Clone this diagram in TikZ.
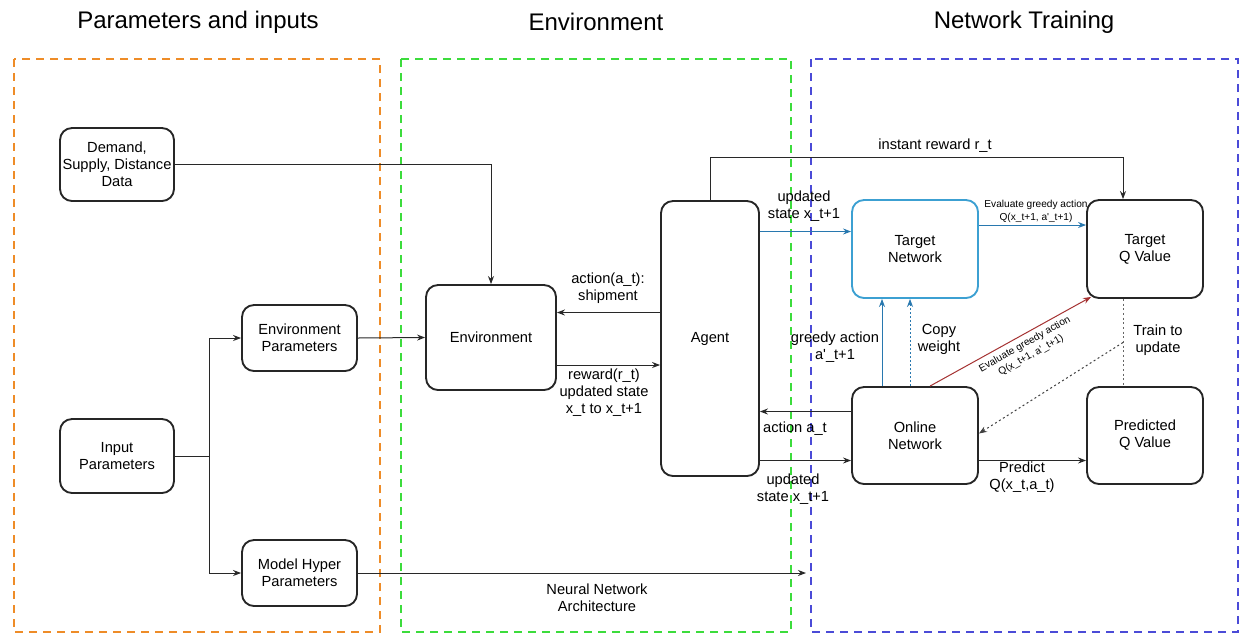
\documentclass[tikz,border=0pt]{standalone}
\usepackage{fontspec}
\setmainfont{Liberation Sans}
\usetikzlibrary{arrows.meta,calc}
\definecolor{orangeD}{RGB}{238,140,40}
\definecolor{greenD}{RGB}{60,220,60}
\definecolor{blueD}{RGB}{75,75,215}
\definecolor{tnblue}{RGB}{60,160,210}
\definecolor{arblue}{RGB}{40,120,175}
\definecolor{redA}{RGB}{165,50,50}
\definecolor{lineC}{RGB}{40,40,40}
\newcommand\lblfont{\fontsize{11}{12.75}\selectfont}
\newcommand\smallfont{\fontsize{7.6}{9.6}\selectfont}
\newcommand\titlefont{\fontsize{18}{22}\selectfont}
\newcommand\aq{\textquotesingle}
\begin{document}
\begin{tikzpicture}[x=0.75pt,y=-0.75pt,
  box/.style={draw=black!85,line width=1.4pt,rounded corners=9pt,align=center,inner sep=0pt,font=\lblfont,fill=white},
  group/.style={line width=1.5pt,dash pattern=on 6pt off 4.5pt},
  lab/.style={font=\lblfont,align=center,inner sep=0pt},
  slab/.style={font=\smallfont,align=center,inner sep=0pt},
  ttl/.style={font=\titlefont,inner sep=0pt},
  ln/.style={draw=lineC,line width=0.75pt},
  arr/.style={ln,-{Stealth[length=6pt,width=4.5pt]}},
  barr/.style={draw=arblue,line width=0.75pt,-{Stealth[length=6pt,width=4.5pt]}},
  bdarr/.style={barr,dash pattern=on 1.5pt off 1.5pt},
  rarr/.style={draw=redA,line width=0.75pt,-{Stealth[length=6pt,width=4.5pt]}},
  gdot/.style={draw=black!60,line width=0.75pt,dash pattern=on 1.5pt off 2pt},
  gdarr/.style={draw=black!75,line width=0.75pt,dash pattern=on 1.5pt off 2pt,-{Stealth[length=6pt,width=4.5pt]}}
]
\useasboundingbox (0,0) rectangle (1239,633);
\fill[white] (0,0) rectangle (1239,633);

% titles
\node[ttl] (t1) at (198,22) {Parameters and inputs};
\node[ttl] (t2) at (596,22) {Environment};
\node[ttl] (t3) at (1024,22) {Network Training};

% groups
\draw[group,orangeD] (14,59) rectangle (380,632);
\draw[group,greenD] (401,59) rectangle (791,632);
\draw[group,blueD] (811,59) rectangle (1238,632);

% nodes
\node[box,minimum width=85.5pt,minimum height=54.75pt] (demand) at (117,164.5) {Demand,\\Supply, Distance\\Data};
\node[box,minimum width=86.25pt,minimum height=49.5pt] (envp) at (299.5,338) {Environment\\Parameters};
\node[box,minimum width=85.5pt,minimum height=55.5pt] (inp) at (117,456) {Input\\Parameters};
\node[box,minimum width=86.25pt,minimum height=49.5pt] (mhp) at (299.5,573) {Model Hyper\\Parameters};
\node[box,minimum width=97.5pt,minimum height=78.75pt] (env) at (491,337.5) {Environment};
\node[box,minimum width=73.5pt,minimum height=206.25pt] (agent) at (710,338.5) {Agent};
\node[box,draw=tnblue,minimum width=94.5pt,minimum height=73.5pt] (tn) at (915,249) {Target\\Network};
\node[box,minimum width=87pt,minimum height=73.5pt] (tq) at (1145,249) {Target\\Q Value};
\node[box,minimum width=94.5pt,minimum height=72.75pt] (on) at (915,435.5) {Online\\Network};
\node[box,minimum width=87pt,minimum height=72.75pt] (pq) at (1145,435.5) {Predicted\\Q Value};

% left connectors
\draw[arr] (demand.east) -| (env.north);
\coordinate (split) at (209,456);
\draw[ln] (inp.east) -- (split);
\draw[arr] (split) |- (envp.west);
\draw[arr] (split) |- (mhp.west);
\draw[arr] (envp.east) -- (env.west);
\coordinate (nnEnd) at (806,573);
\draw[arr] (mhp.east) -- (nnEnd);
\node[lab] (nnlab) at (597,598) {Neural Network\\Architecture};

% environment <-> agent
\draw[arr] ($(agent.west)+(0,-26)$) coordinate (a1) -- (a1 -| env.east);
\node[lab] (l1) at (608,288) {action(a\_t):\\shipment};
\draw[arr] ($(env.east)+(0,27.5)$) coordinate (a2) -- (a2 -| agent.west);
\node[lab] (l2) at (604,393) {reward(r\_t)\\updated state\\x\_t to x\_t+1};

% instant reward
\draw[arr] (agent.north) -- ++(0,-43) -| ($(tq.north)+(-22,0)$);
\node[lab] (l3) at (935,146) {instant reward r\_t};

% agent -> target network
\draw[barr] ($(agent.east)+(0,-107)$) coordinate (a3) -- (a3 -| tn.west);
\node[lab] (l4) at (804,206) {updated\\state x\_t+1};

% target network -> target Q
\draw[barr] ($(tn.east)+(0,-24)$) coordinate (a4) -- (a4 -| tq.west);
\node[slab] (l5) at (1036,211) {Evaluate greedy action\\Q(x\_t+1, a\aq\_t+1)};

% online -> target network
\draw[barr] ($(on.north)+(-33,0)$) coordinate (a5) -- (a5 |- tn.south);
\node[lab] (l6) at (835,347) {greedy action\\a\aq\_t+1};
\draw[bdarr] ($(on.north)+(-5,0)$) coordinate (a6) -- (a6 |- tn.south);
\node[lab] (l7) at (939,339) {Copy\\weight};

% online -> target Q (red)
\draw[rarr] ($(on.north)+(15,0)$) -- ($(tq.south west)+(5,-2)$);
\node[slab,rotate=29.5] (l8) at (1028,350) {Evaluate greedy action\\Q(x\_t+1, a\aq\_t+1)};

% train to update
\draw[gdot] ($(tq.south)+(-22,0)$) coordinate (a7) -- (a7 |- pq.north);
\coordinate (a7m) at ($(a7)!0.5!(a7 |- pq.north)$);
\draw[gdarr] (a7m) -- ($(on.east)+(0,-2)$);
\node[lab] (l9) at (1158,340) {Train to\\update};

% online <-> agent
\draw[arr] ($(on.west)+(0,-24)$) coordinate (a8) -- (a8 -| agent.east);
\node[lab] (l10) at (795,429) {action a\_t};
\coordinate (a9) at ($(on.west)+(0,25)$);
\draw[arr] (a9 -| agent.east) -- (a9);
\node[lab] (l11) at (793,489) {updated\\state x\_t+1};

% online -> predicted Q
\draw[arr] ($(on.east)+(0,25)$) coordinate (a10) -- (a10 -| pq.west);
\node[lab] (l12) at (1022,477) {Predict\\Q(x\_t,a\_t)};
\end{tikzpicture}
\end{document}
